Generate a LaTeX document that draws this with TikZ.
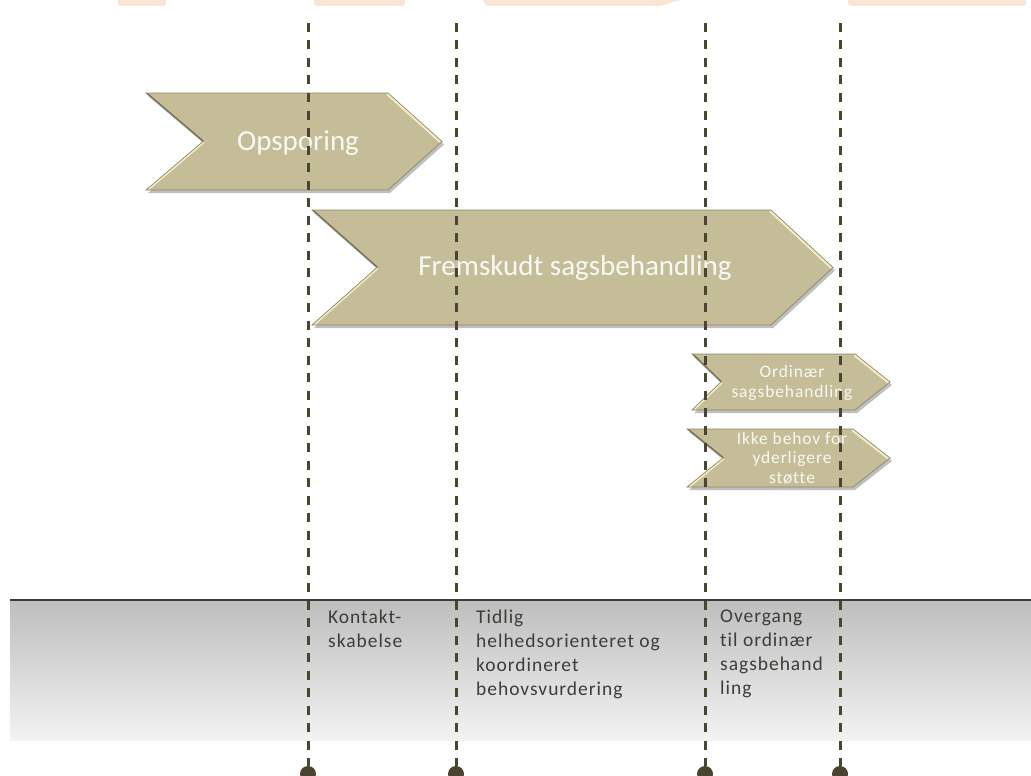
\documentclass[tikz,border=0pt]{standalone}
\usepackage{fontspec}
\setmainfont{Carlito}[Ligatures=NoCommon]
\newfontfamily\bandfont[LetterSpace=5,Ligatures=NoCommon]{Carlito}
\newfontfamily\smallfont[LetterSpace=5,Ligatures=NoCommon]{Carlito}
\definecolor{chevtan}{RGB}{196,189,151}
\definecolor{chevhl}{RGB}{244,238,200}
\definecolor{chevdk}{RGB}{90,85,64}
\definecolor{chevedge}{RGB}{140,134,104}
\definecolor{dashcol}{RGB}{74,68,50}
\definecolor{dotcol}{RGB}{74,67,48}
\definecolor{peach}{RGB}{252,228,210}
\definecolor{bandtop}{RGB}{190,190,190}
\definecolor{bandbot}{RGB}{243,243,243}
\definecolor{bandline}{RGB}{58,58,58}
\definecolor{bandtextcol}{RGB}{64,60,56}
\definecolor{chevtext}{RGB}{248,248,244}
\newcommand\chevshape[6]{% #1 left, #2 top, #3 shoulder, #4 tip, #5 bottom, #6 notch
  \pgfmathsetmacro\chevmid{(#2+#5)/2}
  \fill[black!25] (#1+2,#2+3) -- (#3+2,#2+3) -- (#4+2,\chevmid+3) -- (#3+2,#5+3) -- (#1+2,#5+3) -- (#6+2,\chevmid+3) -- cycle;
  \begin{scope}
    \path[clip] (#1,#2) -- (#3,#2) -- (#4,\chevmid) -- (#3,#5) -- (#1,#5) -- (#6,\chevmid) -- cycle;
    \fill[chevtan] (#1,#2) -- (#3,#2) -- (#4,\chevmid) -- (#3,#5) -- (#1,#5) -- (#6,\chevmid) -- cycle;
    \draw[chevhl, line width=5pt] (#3,#2) -- (#4,\chevmid);
    \draw[chevhl, line width=4pt] (#1,#5) -- (#6,\chevmid);
    \draw[chevdk, line width=2pt] (#6,\chevmid) -- (#1,#2);
  \end{scope}
  \draw[chevedge, line width=0.7pt] (#1,#2) -- (#3,#2) -- (#4,\chevmid) -- (#3,#5) -- (#1,#5) -- (#6,\chevmid) -- cycle;
}
\begin{document}
\begin{tikzpicture}[x=1pt,y=-1pt,
  dashline/.style={draw=dashcol, line width=3pt, dash pattern=on 9pt off 8.5pt},
  dot/.style={circle, fill=dotcol, inner sep=0pt, minimum size=16pt},
  bandtext/.style={anchor=north west, inner sep=0pt, align=left, text=bandtextcol,
    font=\bandfont\fontsize{19.5}{24}\selectfont},
  bigtext/.style={inner sep=0pt, text=chevtext, font=\fontsize{29}{34}\selectfont},
  smalltext/.style={inner sep=0pt, align=center, text=chevtext,
    font=\smallfont\fontsize{17.5}{19.5}\selectfont}]
\useasboundingbox (0,0) rectangle (1031,776);

% faint shapes cut at the top edge
\fill[peach, rounded corners=3pt] (118,-6) rectangle (166,6);
\fill[peach, rounded corners=3pt] (314,-6) rectangle (405,6);
\fill[peach, rounded corners=3pt] (480,-6) -- (700,-6) -- (660,6) -- (486,6) -- cycle;
\fill[peach, rounded corners=3pt] (848,-6) rectangle (1026,6);

% grey band
\shade[top color=bandtop, bottom color=bandbot] (10,600) rectangle (1031,740);
\draw[bandline, line width=2pt] (10,600) -- (1031,600);

% chevrons
\chevshape{146}{93}{388}{442}{190}{203}
\chevshape{312}{210}{771}{833}{325}{377}
\chevshape{692}{354}{855}{890}{410}{721}
\chevshape{687}{429}{853}{890}{487}{723}

\node[bigtext] (op) at (298,143) {Opsporing};
\node[bigtext] (fr) at (575,268) {Fremskudt sagsbehandling};
\node[smalltext] (or) at (792,383) {Ordinær\\sagsbehandling};
\node[smalltext] (ik) at (792,458) {Ikke behov for\\yderligere\\støtte};

% band texts
\node[bandtext] (k) at (328,610) {Kontakt-\\skabelse};
\node[bandtext] (ti) at (476,610) {Tidlig\\helhedsorienteret og\\koordineret\\behovsvurdering};
\node[bandtext] (ov) at (720,610) {Overgang\\til ordinær\\sagsbehand\\ling};

% dashed time lines with end dots
\node[dot] (d1) at (308,774) {};
\node[dot] (d2) at (456,774) {};
\node[dot] (d3) at (705,774) {};
\node[dot] (d4) at (840,774) {};
\coordinate (t1) at (308,23);
\coordinate (t2) at (456,23);
\coordinate (t3) at (705,23);
\coordinate (t4) at (840,23);
\draw[dashline] (t1) -- (d1);
\draw[dashline] (t2) -- (d2);
\draw[dashline] (t3) -- (d3);
\draw[dashline] (t4) -- (d4);
\end{tikzpicture}
\end{document}
